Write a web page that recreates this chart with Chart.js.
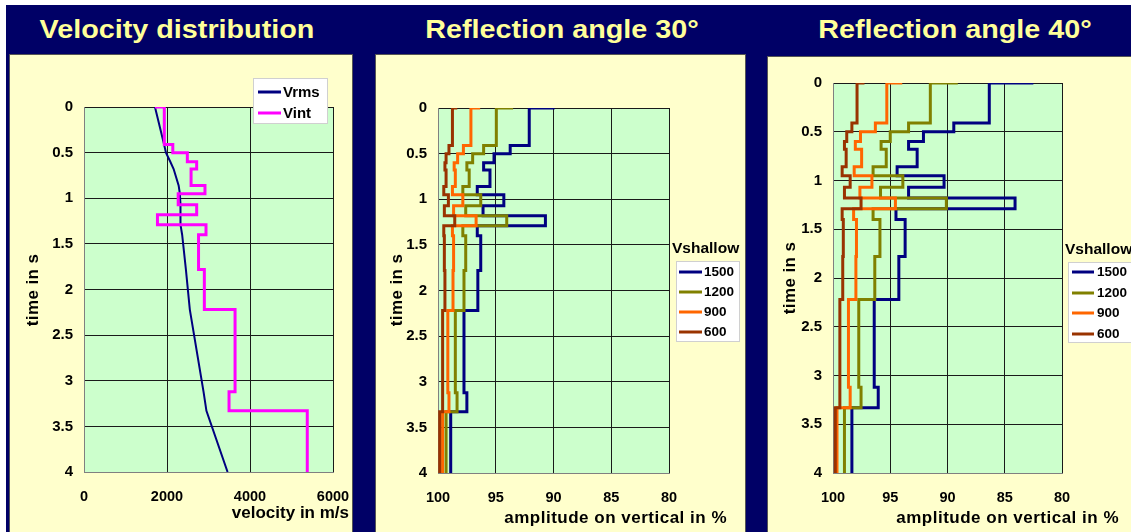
<!DOCTYPE html>
<html>
<head>
<meta charset="utf-8">
<title>Velocity distribution and reflection amplitudes</title>
<script src="https://cdn.jsdelivr.net/npm/chart.js@4/dist/chart.umd.min.js"></script>
<style>
  body { margin: 0; background: #fff; width: 1131px; height: 532px; overflow: hidden; position: relative; }
  #backdrop { position: absolute; left: 6px; top: 5px; width: 1125px; height: 527px; background: #000066; }
  .title { position: absolute; top: 15px; line-height: 26px; color: #FFFF99; text-align: center;
           font: bold 25px "Liberation Sans", Arial, sans-serif; white-space: nowrap;
           transform: scaleX(1.15); }
  canvas { position: absolute; background: #FFFFCC; outline: 1px solid #555; }
</style>
</head>
<body>
<div id="backdrop"></div>
<div class="title" style="left:27px; width:300px;">Velocity distribution</div>
<div class="title" style="left:412px; width:300px;">Reflection angle 30°</div>
<div class="title" style="left:805px; width:300px;">Reflection angle 40°</div>

<canvas id="velChart" width="342" height="477" style="left:10px; top:55px;"></canvas>
<canvas id="amp30Chart" width="369" height="477" style="left:376px; top:55px;"></canvas>
<canvas id="amp40Chart" width="363" height="475" style="left:768px; top:57px;"></canvas>

<script>
// layer tops (time in s), same for every curve
const layerTops = [0, 0.41, 0.50, 0.60, 0.68, 0.86, 0.95, 1.07, 1.18, 1.29, 1.40, 1.78, 2.22, 3.12, 3.33];
const timeEnd = 4;

// velocity distribution (m/s)
const vrmsTimes = [0, 0.41, 0.50, 0.60, 0.68, 0.86, 0.95, 1.07, 1.18, 1.29, 1.40, 1.78, 2.22, 3.12, 3.33, 4];
const vrms = [1710, 1930, 1975, 2080, 2160, 2280, 2310, 2325, 2335, 2315, 2365, 2455, 2550, 2880, 2950, 3460];
const vintStart = 1710;
const vint = [1935, 2140, 2490, 2715, 2580, 2915, 2270, 2715, 1770, 2940, 2760, 2900, 3640, 3495, 5380];

// amplitude on vertical in %, one series per Vshallow
const vshallow = ['1500', '1200', '900', '600'];
const seriesColors = ['#000080', '#808000', '#FF6600', '#993300'];

const amp30Start = [89.9, 93.5, 96.35, 98.33];
const amp30_1500 = [92.1, 93.75, 95.15, 96.05, 95.5, 96.6, 94.3, 96.1, 90.7, 96.6, 96.3, 96.55, 97.75, 97.5, 98.9];
const amp30_1200 = [94.95, 96.05, 97.0, 97.5, 97.3, 97.85, 96.3, 97.6, 94.05, 97.85, 97.6, 97.75, 98.5, 98.35, 99.3];
const amp30_900  = [97.15, 97.8, 98.3, 98.6, 98.5, 98.75, 97.85, 98.65, 96.7, 98.75, 98.65, 98.7, 99.15, 99.05, 99.6];
const amp30_600  = [98.75, 99.05, 99.3, 99.4, 99.3, 99.5, 99.1, 99.45, 98.55, 99.5, 99.45, 99.4, 99.6, 99.6, 99.85];

const amp40Start = [82.5, 89.1, 93.95, 97.25];
const amp40_1500 = [86.35, 89.45, 92.1, 93.4, 92.65, 94.4, 90.3, 93.4, 84.1, 94.5, 93.7, 94.25, 96.4, 96.05, 98.35];
const amp40_1200 = [91.5, 93.4, 95.0, 95.8, 95.35, 96.5, 93.9, 95.85, 90.1, 96.5, 95.9, 96.35, 97.75, 97.55, 99.0];
const amp40_900  = [95.3, 96.3, 97.6, 98.05, 97.5, 98.15, 96.6, 97.65, 94.55, 98.2, 97.95, 98.0, 98.65, 98.5, 99.65];
const amp40_600  = [97.9, 98.35, 98.8, 99.0, 98.85, 99.2, 98.5, 99.0, 97.55, 99.2, 99.1, 99.15, 99.4, 99.4, 99.8];

const fontFamily = '"Liberation Sans", Arial, sans-serif';
Chart.defaults.font.family = fontFamily;
Chart.defaults.font.weight = 'bold';
Chart.defaults.color = '#000';

// step curve: value holds from a layer top down to the next one (stepped 'after' = vertical first)
function stepPoints(start, values) {
    let pts = [{x: start, y: layerTops[0]}];
    values.forEach((v, i) => pts.push({x: v, y: layerTops[i]}));
    pts.push({x: values[values.length - 1], y: timeEnd});
    return pts;
}

// plot background, axis titles and the legend box
const decor = {
    id: 'decor',
    beforeDraw(chart, args, opts) {
        const a = chart.chartArea;
        const ctx = chart.ctx;
        ctx.save();
        ctx.fillStyle = '#CCFFCC';
        ctx.fillRect(a.left, a.top, a.right - a.left, a.bottom - a.top);
        ctx.restore();
    },
    afterDraw(chart, args, opts) {
        const ctx = chart.ctx;
        ctx.save();
        ctx.fillStyle = '#000';
        ctx.font = 'bold 17px ' + fontFamily;
        ctx.letterSpacing = opts.xSpacing || '0px';
        ctx.textAlign = 'right';
        ctx.textBaseline = 'middle';
        ctx.fillText(opts.xTitle, opts.xTitleAt[0], opts.xTitleAt[1]);
        ctx.letterSpacing = '0.4px';
        ctx.translate(opts.yTitleAt[0], opts.yTitleAt[1]);
        ctx.rotate(-Math.PI / 2);
        ctx.textAlign = 'center';
        ctx.fillText(opts.yTitle, 0, 0);
        ctx.restore();

        const lg = opts.legend;
        ctx.save();
        if (lg.title) {
            ctx.font = 'bold 15.5px ' + fontFamily;
            ctx.fillStyle = '#000';
            ctx.textAlign = 'left';
            ctx.textBaseline = 'middle';
            ctx.fillText(lg.title, lg.titleAt[0], lg.titleAt[1]);
        }
        ctx.fillStyle = '#fff';
        ctx.strokeStyle = '#d0d0d0';
        ctx.lineWidth = 1;
        ctx.fillRect(lg.box[0], lg.box[1], lg.box[2], lg.box[3]);
        ctx.strokeRect(lg.box[0] + 0.5, lg.box[1] + 0.5, lg.box[2], lg.box[3]);
        ctx.font = 'bold ' + lg.fontSize + 'px ' + fontFamily;
        ctx.textAlign = 'left';
        ctx.textBaseline = 'middle';
        chart.data.datasets.forEach((ds, i) => {
            const y = lg.rowY[i];
            ctx.strokeStyle = ds.borderColor;
            ctx.lineWidth = 3;
            ctx.beginPath();
            ctx.moveTo(lg.lineX[0], y);
            ctx.lineTo(lg.lineX[1], y);
            ctx.stroke();
            ctx.fillStyle = '#000';
            ctx.fillText(ds.label, lg.textX, y + 0.5);
        });
        ctx.restore();
    }
};

function makeChart(id, datasets, xAxis, box, decorOpts) {
    const canvas = document.getElementById(id);
    const [plotL, plotT, plotR, plotB] = box;
    return new Chart(canvas, {
        type: 'scatter',
        data: {datasets: datasets},
        options: {
            responsive: false,
            animation: false,
            layout: {padding: {left: 0, top: plotT, right: canvas.width - plotR, bottom: 0}},
            plugins: {legend: {display: false}, tooltip: {enabled: false}, decor: decorOpts},
            elements: {point: {radius: 0}, line: {borderJoinStyle: 'miter', borderCapStyle: 'butt'}},
            scales: {
                x: Object.assign({
                    type: 'linear',
                    grid: {color: '#1a1a1a', lineWidth: 1, drawTicks: false},
                    border: {color: '#808080', width: 1},
                    afterFit: s => {
                        s.height = canvas.height - plotB;
                        s.paddingLeft = 0;
                        s.paddingRight = 0;
                    }
                }, xAxis),
                y: {
                    type: 'linear',
                    min: 0, max: timeEnd, reverse: true,
                    ticks: {stepSize: 0.5, padding: 11, font: {size: 15, weight: 'bold'}, callback: v => String(v)},
                    grid: {color: '#1a1a1a', lineWidth: 1, drawTicks: false},
                    border: {color: '#808080', width: 1},
                    afterFit: s => { s.width = plotL; }
                }
            }
        },
        plugins: [decor]
    });
}

// ---- velocity distribution ----
makeChart('velChart', [
    {label: 'Vrms', data: vrmsTimes.map((t, i) => ({x: vrms[i], y: t})), showLine: true,
     borderColor: '#000080', borderWidth: 2, order: 2},
    {label: 'Vint', data: stepPoints(vintStart, vint), showLine: true, stepped: 'after',
     borderColor: '#FF00FF', borderWidth: 3, order: 1}
], {
    min: 0, max: 6000,
    ticks: {stepSize: 2000, padding: 16, font: {size: 14.5, weight: 'bold'}, callback: v => String(v)}
}, [74, 52, 323, 417], {
    xTitle: 'velocity in m/s', xTitleAt: [339, 458],
    yTitle: 'time in s', yTitleAt: [23, 235],
    legend: {box: [243, 23, 74, 45], rowY: [37, 58], lineX: [248, 271], textX: [273], fontSize: 15}
});

// ---- amplitude charts ----
function ampDatasets(starts, series) {
    return series.map((vals, i) => ({
        label: vshallow[i],
        data: stepPoints(starts[i], vals),
        showLine: true,
        stepped: 'after',
        borderColor: seriesColors[i],
        borderWidth: 3,
        order: series.length - i
    }));
}

const ampAxis = {
    min: 80, max: 100, reverse: true,
    ticks: {stepSize: 5, padding: 16, font: {size: 14.5, weight: 'bold'}}
};

makeChart('amp30Chart', ampDatasets(amp30Start, [amp30_1500, amp30_1200, amp30_900, amp30_600]),
    ampAxis, [62, 53, 293, 418], {
    xTitle: 'amplitude on vertical in %', xTitleAt: [351, 463], xSpacing: '0.5px',
    yTitle: 'time in s', yTitleAt: [21, 235],
    legend: {title: 'Vshallow', titleAt: [296, 194], box: [300, 206, 63, 80],
             rowY: [217, 237, 257, 277], lineX: [303, 326], textX: 328, fontSize: 13.5}
});

makeChart('amp40Chart', ampDatasets(amp40Start, [amp40_1500, amp40_1200, amp40_900, amp40_600]),
    ampAxis, [65, 26, 294, 416], {
    xTitle: 'amplitude on vertical in %', xTitleAt: [351, 461], xSpacing: '0.5px',
    yTitle: 'time in s', yTitleAt: [22, 221],
    legend: {title: 'Vshallow', titleAt: [297, 193], box: [300, 205, 70, 80],
             rowY: [215, 236, 256, 277], lineX: [304, 326], textX: 329, fontSize: 13.5}
});
</script>
</body>
</html>
